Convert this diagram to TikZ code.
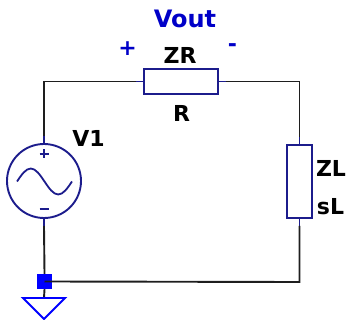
\documentclass[tikz,border=0pt]{standalone}
\usepackage{fontspec}
\setmainfont{DejaVu Sans}
\definecolor{comp}{RGB}{28,28,140}
\definecolor{lbl}{RGB}{0,0,200}
\definecolor{wirec}{RGB}{30,30,30}
\begin{document}
\begin{tikzpicture}[x=1pt,y=-1pt,
  wire/.style={draw=wirec,line width=1.9pt},
  stub/.style={draw=comp,line width=1.9pt},
  compbox/.style={draw=comp,line width=1.9pt,fill=white,inner sep=0pt,rectangle},
  txt/.style={font=\fontsize{22}{22}\selectfont\bfseries,inner sep=0pt,text=black},
  btxt/.style={font=\fontsize{22}{22}\selectfont\bfseries,inner sep=0pt,text=lbl}]
\useasboundingbox (0,0) rectangle (348,320);
% components
\node[compbox,minimum width=74pt,minimum height=25pt] (R) at (181,81.5) {};
\node[compbox,minimum width=25pt,minimum height=73pt] (ZL) at (299.5,181.5) {};
\node[draw=comp,line width=1.9pt,circle,minimum size=74pt,inner sep=0pt] (V) at (44,181) {};
\node[draw=none,fill=blue,minimum size=15pt,inner sep=0pt,rectangle] (G) at (44.5,281.5) {};
% stub end coordinates
\coordinate (Rl) at (136,81.5);
\coordinate (Rr) at (226,81.5);
\coordinate (ZLt) at (299.5,137);
\coordinate (ZLb) at (299.5,226);
\coordinate (Vt) at (44,136);
\coordinate (Vb) at (44,226);
\coordinate (TL) at (44,81.5);
\coordinate (TR) at (299.5,81.5);
\coordinate (BR) at (299.5,282);
\coordinate (Gt) at (44,298);
% stubs
\draw[stub] (R.west) -- (Rl);
\draw[stub] (R.east) -- (Rr);
\draw[stub] (ZL.north) -- (ZLt);
\draw[stub] (ZL.south) -- (ZLb);
\draw[stub] (V.north) -- (Vt);
\draw[stub] (V.south) -- (Vb);
% wires
\draw[wire] (Rl) -- (TL) -- (Vt);
\draw[wire] (Rr) -- (TR) -- (ZLt);
\draw[wire] (ZLb) -- (BR) -- (G.center);
\draw[wire] (Vb) -- (G.north);
\draw[wire] (G.south) -- (Gt);
% ground symbol
\draw[draw=blue,line width=1.9pt,line join=miter] (23,298) -- (65,298) -- (44,319) -- cycle;
% sine and signs in source
\draw[comp,line width=1.8pt] (17,181.5) sin (30.75,168.5) cos (44.5,181.5) sin (58.25,194.5) cos (72,181.5);
\draw[comp,line width=1.3pt] (39.5,154) -- (48.5,154) (44,149.5) -- (44,158.5);
\draw[comp,line width=1.3pt] (39.5,209) -- (48.5,209);
% labels
\node[btxt,font=\fontsize{24}{24}\selectfont\bfseries] (vout) at (185,18.5) {Vout};
\node[btxt] (plus) at (127.5,49) {+};
\node[btxt] (minus) at (232.5,48) {-};
\node[txt] (zr) at (180,55.5) {ZR};
\node[txt] (r) at (181.5,113.5) {R};
\node[txt] (v1) at (88.5,138.5) {V1};
\node[txt] (zl) at (331,168.5) {ZL};
\node[txt] (sl) at (330.5,206.5) {sL};
\end{tikzpicture}
\end{document}
